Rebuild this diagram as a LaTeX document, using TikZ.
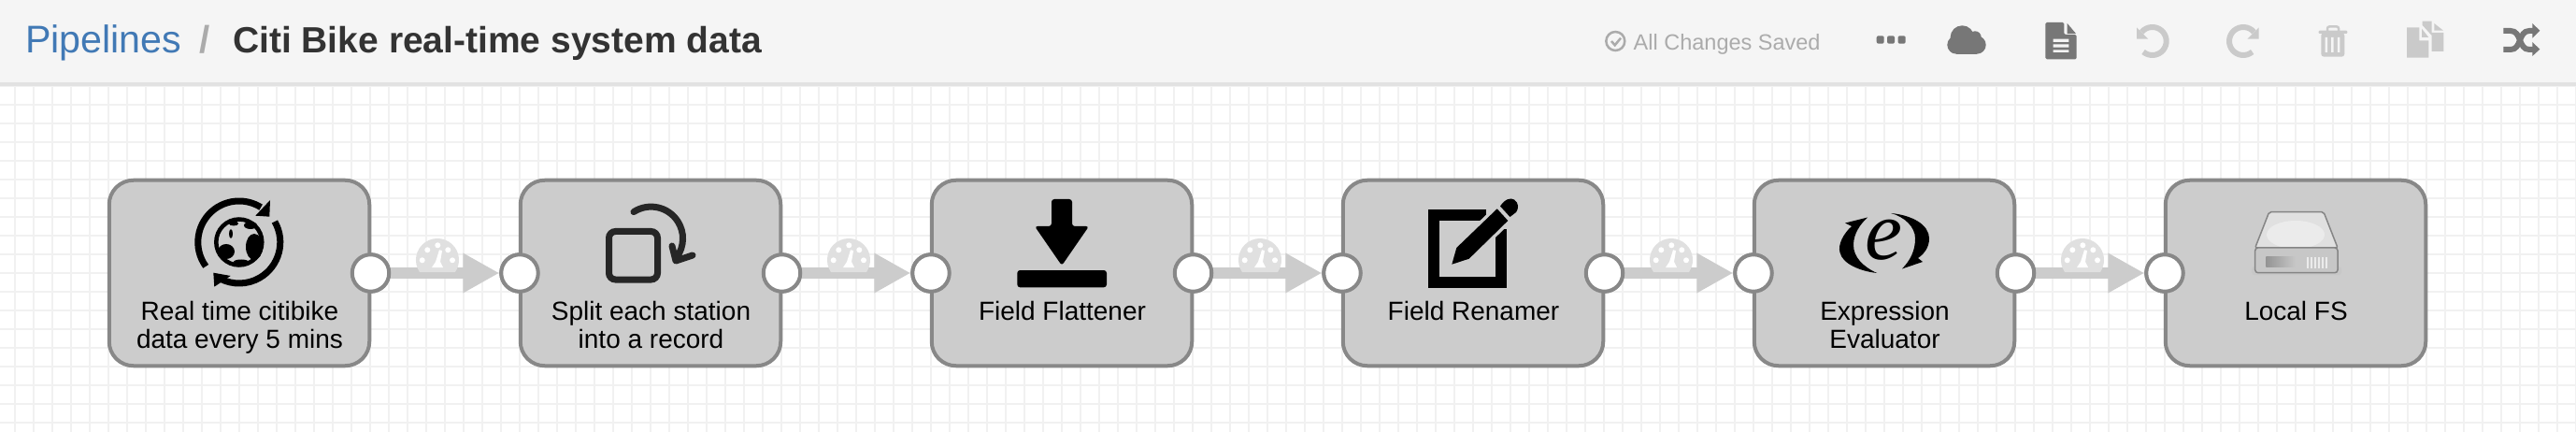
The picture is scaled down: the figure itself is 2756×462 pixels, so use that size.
\documentclass[tikz,border=0pt]{standalone}
\usepackage{fontspec}
\setmainfont{Liberation Sans}
\newfontfamily\glyphfont{Liberation Serif}
\usetikzlibrary{arrows.meta,positioning}
\definecolor{BarGray}{HTML}{F5F5F5}
\definecolor{BarEdge}{HTML}{E2E2E2}
\definecolor{GridGray}{HTML}{F1F1F1}
\definecolor{StageFill}{HTML}{CCCCCC}
\definecolor{StageEdge}{HTML}{888888}
\definecolor{GaugeGray}{HTML}{E0E0E0}
\definecolor{ToolDark}{HTML}{777777}
\definecolor{ToolPale}{HTML}{CACACA}
\definecolor{CrumbBlue}{HTML}{4179B5}
\begin{document}
\begin{tikzpicture}[
    x=1pt,y=-1pt,
    stage/.style={draw=StageEdge,line width=4pt,fill=StageFill,rounded corners=26pt,
      minimum width=278.5pt,minimum height=198.5pt,inner sep=0pt},
    port/.style={circle,draw=StageEdge,line width=4pt,fill=white,minimum size=39.5pt,inner sep=0pt},
    caption/.style={anchor=north,align=center,inner sep=0pt,text=black,
      font=\fontsize{28}{30}\selectfont},
    link/.style={-{Triangle[length=39pt,width=40pt]},line width=11.5pt,color=StageFill},
    crumb/.style={anchor=base west,inner sep=0pt},
    gridline/.style={draw=GridGray,line width=2pt},
    gauge/.pic={
      \fill[GaugeGray] (-19,0) arc (145.6:394.4:23) -- cycle;
      \fill[white] (-16.3,-12.7) circle (3) (-10.7,-23.7) circle (3) (0.3,-28.7) circle (3)
        (11.3,-23.7) circle (3) (16,-12.7) circle (3);
      \fill[white] (2,-23.7) -- (5,-23) -- (3,-11) -- (6,-5) -- (-6,-5) -- (-2,-11) -- cycle;
    }
  ]
    \useasboundingbox (0,0) rectangle (2756,462);
    \fill[white] (0,0) rectangle (2756,462);
    \draw[gridline,y=1pt,shift={(16,-12)}] (-16,-460) grid[step=20] (2740,-80);
    \fill[BarEdge] (0,88) rectangle (2756,92.5);
    \fill[BarGray] (0,0) rectangle (2756,88);

    \node[crumb,text=CrumbBlue,font=\fontsize{41.2}{44}\selectfont] (pipelines) at (27,57) {Pipelines};
    \node[crumb,text=black!33,font=\fontsize{40.5}{44}\selectfont\bfseries] (slash) at (213,57) {/};
    \node[crumb,text=black!80,font=\fontsize{39}{44}\selectfont\bfseries] (title) at (249,57) {Citi Bike real-time system data};
    \node[crumb,text=black!33,font=\fontsize{23.5}{26}\selectfont] (saved) at (1747.5,53.3) {All Changes Saved};

    \draw[black!33,line width=2.5pt] (1728.3,44) circle (10);
    \draw[black!33,line width=2.5pt] (1724,44) -- (1727.7,48.3) -- (1734,40.7);

    \fill[ToolDark,rounded corners=2pt] (2007.7,38.3) rectangle (2015.7,46.7);
    \fill[ToolDark,rounded corners=2pt] (2019,38.3) rectangle (2027,46.7);
    \fill[ToolDark,rounded corners=2pt] (2030.5,38.3) rectangle (2038.7,46.7);

    \fill[ToolDark] (2099.3,40) circle (12.7);
    \fill[ToolDark] (2113,40) circle (6.7);
    \fill[ToolDark] (2093,48) circle (9.7);
    \fill[ToolDark] (2115,48) circle (9.7);
    \fill[ToolDark] (2093,45) rectangle (2115,57.7);

    \fill[ToolDark,rounded corners=1.5pt] (2188.3,24) -- (2208.3,24) -- (2208.3,37) -- (2221.7,37)
      -- (2221.7,63.3) -- (2188.3,63.3) -- cycle;
    \fill[ToolDark] (2211.7,25) -- (2221,36) -- (2211.7,36) -- cycle;
    \fill[BarGray] (2196.7,41.7) rectangle (2213.3,45) (2196.7,47.3) rectangle (2213.3,50.7)
      (2196.7,53.3) rectangle (2213.3,56);

    \draw[ToolPale,line width=6pt] (2302.7,44) ++(220:15) arc (220:490:15);
    \fill[ToolPale] (2286,29.3) -- (2286,41.7) -- (2298.3,41.7) -- cycle;
    \draw[ToolPale,line width=6pt] (2400,44) ++(320:15) arc (320:50:15);
    \fill[ToolPale] (2416.7,29.3) -- (2416.7,41.7) -- (2404.3,41.7) -- cycle;

    \fill[ToolPale,rounded corners=1pt] (2480.7,32.7) rectangle (2511.3,36);
    \draw[ToolPale,line width=2.5pt,rounded corners=2pt] (2490,33) -- (2490,28.5) -- (2502,28.5) -- (2502,33);
    \fill[ToolPale,rounded corners=3pt] (2483.3,35) -- (2508.3,35) -- (2508.3,60.7) -- (2483.3,60.7) -- cycle;
    \fill[BarGray] (2487.5,40) rectangle (2490,56) (2494.2,40) rectangle (2496.7,56) (2500.9,40) rectangle (2503.4,56);

    \fill[ToolPale] (2591.7,22.7) -- (2601.7,22.7) -- (2601.7,35) -- (2614.3,35) -- (2614.3,55)
      -- (2601.7,55) -- (2601.7,38) -- (2591.7,27) -- cycle;
    \fill[ToolPale] (2604.3,25) -- (2614,32.7) -- (2604.3,32.7) -- cycle;
    \fill[ToolPale] (2575,29.3) -- (2588.3,29.3) -- (2588.3,43.3) -- (2598.3,43.3) -- (2598.3,61.7) -- (2575,61.7) -- cycle;
    \fill[ToolPale] (2591,30.7) -- (2598.3,40) -- (2591,40) -- cycle;

    \draw[ToolDark,line width=6pt] (2678.3,33) -- (2686,33) .. controls (2698,33) and (2694,53) .. (2706,53) -- (2711,53);
    \draw[ToolDark,line width=6pt] (2678.3,53) -- (2686,53) .. controls (2698,53) and (2694,33) .. (2706,33) -- (2711,33);
    \fill[ToolDark] (2709.3,25) -- (2717.3,32.7) -- (2709.3,40.7) -- cycle;
    \fill[ToolDark] (2709.3,45) -- (2717.3,52.7) -- (2709.3,60) -- cycle;

    \node[port] (o1) at (396.5,292) {};
    \node[port] (i2) at (556,292) {};
    \node[port] (o2) at (836.5,292) {};
    \node[port] (i3) at (996,292) {};
    \node[port] (o3) at (1276.5,292) {};
    \node[port] (i4) at (1436,292) {};
    \node[port] (o4) at (1716.5,292) {};
    \node[port] (i5) at (1876,292) {};
    \node[port] (o5) at (2156.5,292) {};
    \node[port] (i6) at (2316,292) {};

    \draw[link] (o1) -- (i2); \draw[link] (o2) -- (i3); \draw[link] (o3) -- (i4);
    \draw[link] (o4) -- (i5); \draw[link] (o5) -- (i6);

    \pic at (468,291) {gauge};
    \pic at (908,291) {gauge};
    \pic at (1348,291) {gauge};
    \pic at (1788,291) {gauge};
    \pic at (2228,291) {gauge};

    \node[stage] (s1) at (256,292) {};
    \node[stage] (s2) at (696,292) {};
    \node[stage] (s3) at (1136,292) {};
    \node[stage] (s4) at (1576,292) {};
    \node[stage] (s5) at (2016,292) {};
    \node[stage] (s6) at (2456,292) {};

    \node[port] at (o1) {}; \node[port] at (i2) {};
    \node[port] at (o2) {}; \node[port] at (i3) {};
    \node[port] at (o3) {}; \node[port] at (i4) {};
    \node[port] at (o4) {}; \node[port] at (i5) {};
    \node[port] at (o5) {}; \node[port] at (i6) {};

    \node[caption] (c1) at (256.5,322) {Real time citibike\\data every 5 mins};
    \node[caption] (c2) at (696.5,322) {Split each station\\into a record};
    \node[caption] (c3) at (1136.5,322) {Field Flattener};
    \node[caption] (c4) at (1576.5,322) {Field Renamer};
    \node[caption] (c5) at (2016.5,322) {Expression\\Evaluator};
    \node[caption] (c6) at (2456.5,322) {Local FS};

    \draw[black,line width=7pt] (255.8,259) ++(144:44) arc (144:302:44);
    \fill[black] (289,214) -- (288.3,231.7) -- (273.3,230.7) -- cycle;
    \draw[black,line width=7pt] (255.8,259) ++(330:44) arc (330:477:44);
    \fill[black] (228.3,291.7) -- (229.3,306.7) -- (246.7,295) -- cycle;
    \draw[black,line width=4.5pt] (255.8,259) circle (24.5);
    \fill[black] (242,269) ellipse (9 and 8) (272,264) ellipse (9 and 14) (247,250) ellipse (2 and 5)
      (268,241) ellipse (7 and 4) (250,239) ellipse (5 and 2.5) (258,280) ellipse (8 and 2.5);

    \draw[black!85,line width=7pt,rounded corners=7pt] (651.5,247.5) rectangle (703.5,299);
    \draw[black!85,line width=7pt,line cap=round] (678,226.6) arc (237:396:34);
    \draw[black!85,line width=7pt,line cap=round,line join=round] (719,263) -- (723,279) -- (741,273);

    \fill[black,rounded corners=3pt] (1125,213) -- (1147,213) -- (1147,242) -- (1165,242) -- (1136,284)
      -- (1107,242) -- (1125,242) -- cycle;
    \fill[black,rounded corners=3pt] (1088.3,289) rectangle (1184,307.3);

    \draw[black,line width=12pt] (1590,230) -- (1534.3,230) -- (1534.3,302.3) -- (1606,302.3) -- (1606,245);
    \draw[StageFill,line width=7pt] (1553.3,282.7) -- (1558.3,265) -- (1601.7,223.3)
      -- (1613.3,236) -- (1571.7,276.7) -- cycle;
    \fill[black] (1553.3,282.7) -- (1558.3,265) -- (1601.7,223.3)
      -- (1613.3,236) -- (1571.7,276.7) -- cycle;
    \fill[black] (1605,220.5) .. controls (1610,213) and (1616,211) .. (1620,213.5)
      .. controls (1625,217) and (1625,223) .. (1622,227) -- (1615.5,232) -- cycle;

    \fill[black] (1998,232.5) -- (1974,238.5) -- (1981,242) .. controls (1972,250) and (1966,262) .. (1968.5,270)
      .. controls (1971,282) and (1990,290) .. (2008,292) .. controls (1993,285) and (1983,275) .. (1983,262)
      .. controls (1983,250) and (1990,240) .. (1998,232.5) -- cycle;
    \fill[black] (2023,228) .. controls (2045,230) and (2064,240) .. (2064,255) .. controls (2064,265) and (2058,272) .. (2052,276)
      -- (2057,280) -- (2035,287.5) .. controls (2044,278) and (2049,268) .. (2049,255)
      .. controls (2049,243) and (2038,232) .. (2023,228) -- cycle;
    \node[anchor=base,inner sep=0pt,font=\glyphfont\fontsize{90}{90}\selectfont\itshape] (evalglyph) at (2015,278) {e};

    \fill[black!22,rounded corners=3pt] (2409,285) rectangle (2505,294);
    \filldraw[draw=black!48,fill=black!12,line width=1.5pt,rounded corners=2pt] (2427.7,226.7) -- (2486,226.7)
      -- (2501,265) -- (2412.7,265) -- cycle;
    \fill[black!8] (2456,251) ellipse (31 and 15);
    \filldraw[draw=black!48,fill=black!22,line width=1.5pt,rounded corners=3pt] (2412.7,265) rectangle (2501,291.7);
    \shade[left color=black!42,right color=black!22] (2424.3,275) rectangle (2456,285);
    \foreach \v in {2469,2473,2477,2481,2485,2489} \draw[black!8,line width=1.2pt] (\v,275) -- (\v,286.7);
  \end{tikzpicture}
\end{document}
